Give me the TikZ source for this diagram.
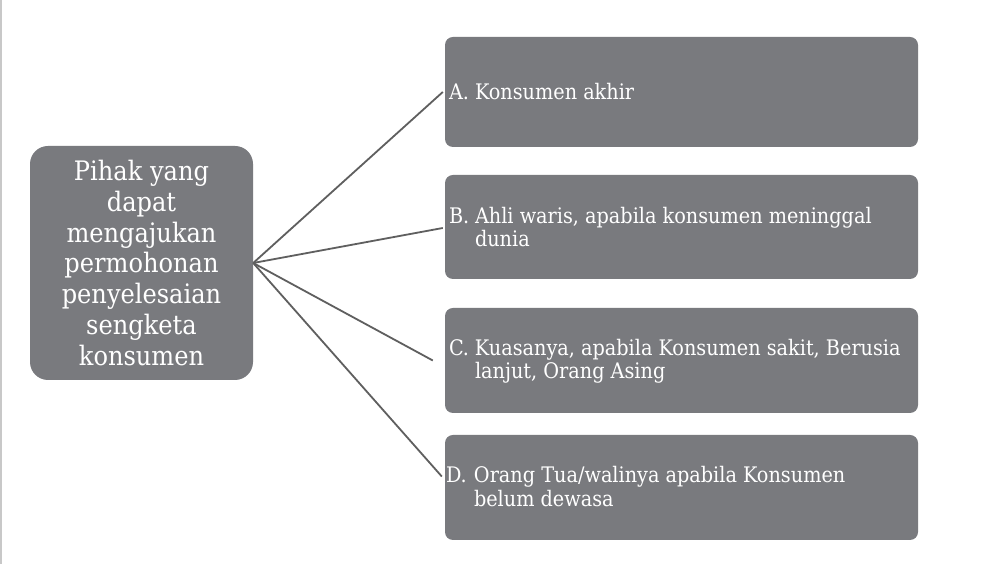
\documentclass[tikz,border=0pt]{standalone}
\usepackage{fontspec}
\setmainfont{DejaVu Serif Condensed}
\definecolor{boxgray}{RGB}{121,122,126}
\definecolor{linegray}{RGB}{95,95,95}
\definecolor{edgegray}{RGB}{200,200,200}
\begin{document}
\begin{tikzpicture}[x=1pt,y=1pt,
  mainbox/.style={fill=boxgray,rounded corners=18pt,minimum width=223pt,minimum height=234pt,inner sep=0pt,text=white,align=center,font=\fontsize{26.8}{30.8}\selectfont},
  itembox/.style={fill=boxgray,rounded corners=8pt,minimum width=473pt,inner sep=0pt},
  itemtext/.style={anchor=west,inner sep=0pt,text=white,align=left,font=\fontsize{21.4}{23.5}\selectfont},
  conn/.style={draw=linegray,line width=1.8pt}]
\useasboundingbox (0,0) rectangle (986,564);
\fill[white] (0,0) rectangle (986,564);
\draw[edgegray,line width=1.5pt] (1,0) -- (1,564);
\node[mainbox] (L) at (141.5,301) {Pihak yang\\dapat\\mengajukan\\permohonan\\penyelesaian\\sengketa\\konsumen};
\node[itembox,minimum height=110pt] (A) at (681.5,472) {};
\node[itembox,minimum height=104pt] (B) at (681.5,337) {};
\node[itembox,minimum height=105pt] (C) at (681.5,203.5) {};
\node[itembox,minimum height=105pt] (D) at (681.5,76.5) {};
\node[itemtext] (At) at ([xshift=4pt]A.west) {\makebox[26pt][l]{A.}Konsumen akhir};
\node[itemtext] (Bt) at ([xshift=4pt]B.west) {\makebox[26pt][l]{B.}Ahli waris, apabila konsumen meninggal\\\hspace*{26pt}dunia};
\node[itemtext] (Ct) at ([xshift=4pt,yshift=-1pt]C.west) {\makebox[26pt][l]{C.}Kuasanya, apabila Konsumen sakit, Berusia\\\hspace*{26pt}lanjut, Orang Asing};
\node[itemtext] (Dt) at ([xshift=1pt,yshift=1pt]D.west) {\makebox[28pt][l]{D.}Orang Tua/walinya apabila Konsumen\\\hspace*{28pt}belum dewasa};
\draw[conn] (L.east) -- ([xshift=-2pt]A.west);
\draw[conn] (L.east) -- ([shift={(-2pt,-1pt)}]B.west);
\draw[conn] (L.east) -- ([xshift=-12pt]C.west);
\draw[conn] (L.east) -- ([shift={(-3pt,11pt)}]D.west);
\end{tikzpicture}
\end{document}
